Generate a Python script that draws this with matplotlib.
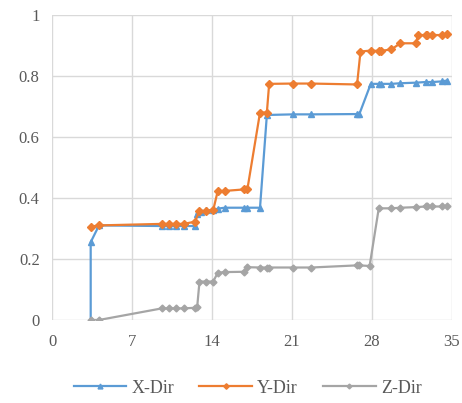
import matplotlib
matplotlib.use("Agg")
import matplotlib.pyplot as plt

# X-Dir
x_dir_t = [3.37, 3.37, 4.1, 9.6, 10.2, 10.8, 11.5, 12.5, 12.65, 13.0, 13.5, 14.1, 14.5, 15.1,
           16.8, 17.1, 18.2, 18.8, 21.1, 22.7, 26.7, 26.9, 27.9, 28.6, 28.8, 29.7, 30.5,
           31.9, 32.7, 33.3, 34.1, 34.6]
x_dir_v = [0.0, 0.255, 0.31, 0.308, 0.308, 0.308, 0.308, 0.308, 0.348, 0.355, 0.36, 0.36, 0.365, 0.368,
           0.368, 0.368, 0.368, 0.672, 0.674, 0.674, 0.675, 0.675, 0.774, 0.774, 0.774, 0.774, 0.776,
           0.778, 0.78, 0.78, 0.782, 0.785]

# Y-Dir
y_dir_t = [3.37, 4.1, 9.6, 10.2, 10.8, 11.5, 12.5, 12.9, 13.5, 14.1, 14.5, 15.1, 16.8, 17.1,
           18.2, 18.8, 19.0, 21.1, 22.7, 26.7, 27.0, 27.9, 28.6, 28.8, 29.7, 30.5, 31.9, 32.0,
           32.7, 32.8, 33.3, 34.1, 34.6]
y_dir_v = [0.306, 0.31, 0.315, 0.315, 0.315, 0.315, 0.322, 0.358, 0.356, 0.36, 0.423, 0.423, 0.428, 0.43,
           0.68, 0.68, 0.774, 0.775, 0.775, 0.772, 0.88, 0.883, 0.882, 0.882, 0.887, 0.907, 0.907, 0.934,
           0.934, 0.934, 0.934, 0.934, 0.936]

# Z-Dir
z_dir_t = [3.37, 4.1, 9.6, 10.2, 10.8, 11.5, 12.5, 12.7, 12.9, 13.5, 14.1, 14.5, 15.1, 16.8, 17.1,
           18.2, 18.8, 19.0, 21.1, 22.7, 26.7, 26.9, 27.8, 28.6, 29.7, 30.5, 31.9, 32.7, 32.8,
           33.3, 34.1, 34.6]
z_dir_v = [0.0, 0.0, 0.038, 0.038, 0.038, 0.038, 0.04, 0.044, 0.126, 0.126, 0.126, 0.155, 0.157, 0.158, 0.173,
           0.172, 0.172, 0.172, 0.172, 0.172, 0.179, 0.179, 0.177, 0.366, 0.366, 0.368, 0.37, 0.372, 0.372,
           0.372, 0.372, 0.372]

plt.rcParams['font.family'] = ['Liberation Serif', 'DejaVu Serif']

fig = plt.figure(figsize=(4.62, 4.03), dpi=100)
ax = fig.add_axes([0.113, 0.206, 0.865, 0.757])

ax.plot(x_dir_t, x_dir_v, color="#5B9BD5", lw=1.6, marker="^", ms=5, label="X-Dir")
ax.plot(y_dir_t, y_dir_v, color="#ED7D31", lw=1.6, marker="D", ms=4, label="Y-Dir")
ax.plot(z_dir_t, z_dir_v, color="#A5A5A5", lw=1.6, marker="D", ms=3.5, label="Z-Dir")

ax.set_xlim(0, 35)
ax.set_ylim(0, 1)
ax.set_xticks(range(0, 36, 7))
ax.set_yticks([0, 0.2, 0.4, 0.6, 0.8, 1])
ax.set_yticklabels(["0", "0.2", "0.4", "0.6", "0.8", "1"])
ax.grid(True, color="#D9D9D9", lw=1)
ax.set_axisbelow(True)
for s in ax.spines.values():
    s.set_visible(False)
ax.tick_params(length=0, labelsize=12, colors="#595959", pad=9)
ax.tick_params(axis="x", pad=10)

ax.legend(loc="center", bbox_to_anchor=(0.489, -0.223), ncol=3, frameon=False,
          fontsize=13, labelcolor="#595959", handlelength=2.9, handletextpad=0.3,
          columnspacing=1.4, markerscale=0.7)

fig.savefig("out.png")
